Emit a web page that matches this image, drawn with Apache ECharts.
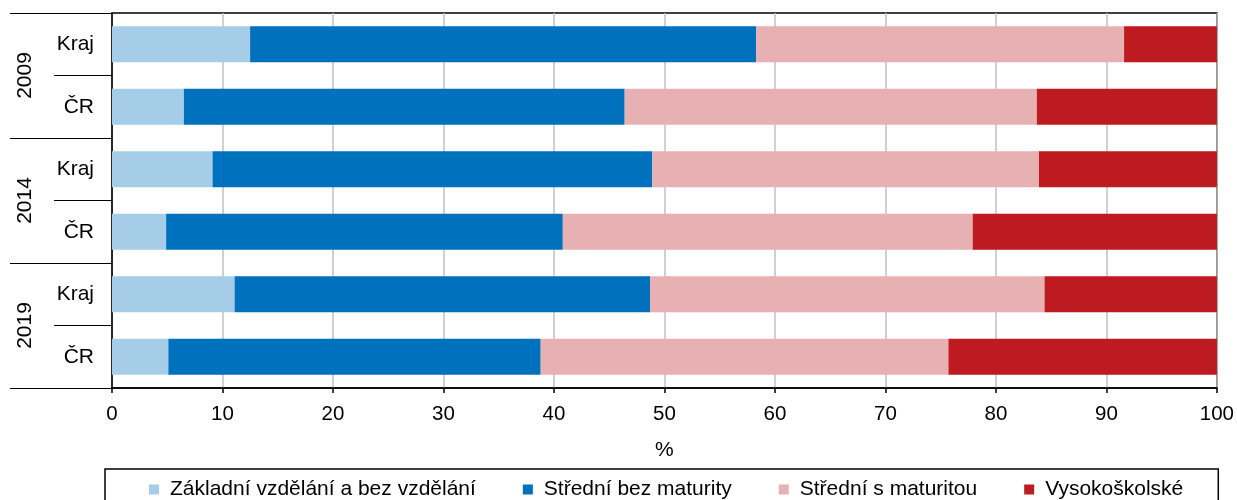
<!DOCTYPE html>
<html>
<head>
<meta charset="utf-8">
<script src="https://cdn.jsdelivr.net/npm/echarts@6/dist/echarts.min.js"></script>
<style>
html,body{margin:0;padding:0;background:#fff;}
#chart{width:1237px;height:500px;}
</style>
</head>
<body>
<div id="chart"></div>
<script>
// Data
const rowLabels = ['Kraj', 'ČR', 'Kraj', 'ČR', 'Kraj', 'ČR'];
const yearLabels = ['2009', '2014', '2019'];
const seriesNames = ['Základní vzdělání a bez vzdělání', 'Střední bez maturity', 'Střední s maturitou', 'Vysokoškolské'];
const zakladni = [12.5, 6.5, 9.1, 4.9, 11.1, 5.1];
const stredniBez = [45.8, 39.9, 39.8, 35.9, 37.6, 33.7];
const stredniS = [33.3, 37.3, 35.0, 37.1, 35.7, 36.9];
const vysokoskolske = [8.4, 16.3, 16.1, 22.1, 15.6, 24.3];
const xTicks = { min: 0, max: 100, interval: 10 };

const colors = ['#A6CDE8', '#0071BC', '#E7B0B3', '#BD1A22'];
const values = [zakladni, stredniBez, stredniS, vysokoskolske];
const font = 'Liberation Sans, Arial, sans-serif';

const chart = echarts.init(document.getElementById('chart'));
chart.setOption({
  animation: false,
  textStyle: { fontFamily: font },
  grid: { left: 112, right: 20, top: 13, bottom: 112, show: true, borderColor: '#000', borderWidth: 1.5, backgroundColor: 'transparent' },
  legend: {
    left: 105, top: 469,
    data: seriesNames,
    icon: 'rect', itemWidth: 10, itemHeight: 10, itemGap: 47,
    borderColor: '#000', borderWidth: 1.5,
    padding: [10, 35, 10, 44],
    textStyle: { fontSize: 21, color: '#000', fontFamily: font, padding: [0, 0, 0, 6] }
  },
  xAxis: {
    type: 'value', min: xTicks.min, max: xTicks.max, interval: xTicks.interval,
    name: '%', nameLocation: 'middle', nameGap: 52,
    nameTextStyle: { fontSize: 21, color: '#000', fontFamily: font },
    axisLine: { show: true, lineStyle: { color: '#000', width: 1.5 } },
    axisTick: { show: true, length: 5, lineStyle: { color: '#000', width: 1.5 } },
    axisLabel: { fontSize: 20.5, color: '#000', margin: 16, fontFamily: font },
    splitLine: { show: true, lineStyle: { color: '#C0C0C0', width: 1.5 } }
  },
  yAxis: [
    {
      type: 'category', data: rowLabels, inverse: true, position: 'left',
      axisLine: { show: true, lineStyle: { color: '#000', width: 1.5 } },
      axisTick: { show: true, length: 58, lineStyle: { color: '#000', width: 1.2 } },
      axisLabel: { fontSize: 21, color: '#000', margin: 18, fontFamily: font }
    },
    {
      type: 'category', data: yearLabels, inverse: true, position: 'left', offset: 0,
      axisLine: { show: false },
      axisTick: { show: true, length: 102, lineStyle: { color: '#000', width: 1.2 } },
      axisLabel: { fontSize: 21, color: '#000', margin: 76, rotate: 90, fontFamily: font }
    }
  ],
  series: seriesNames.map((name, i) => ({
    name: name,
    type: 'bar',
    stack: 'total',
    yAxisIndex: 0,
    barWidth: 36,
    data: values[i],
    itemStyle: { color: colors[i] }
  }))
});
</script>
</body>
</html>
